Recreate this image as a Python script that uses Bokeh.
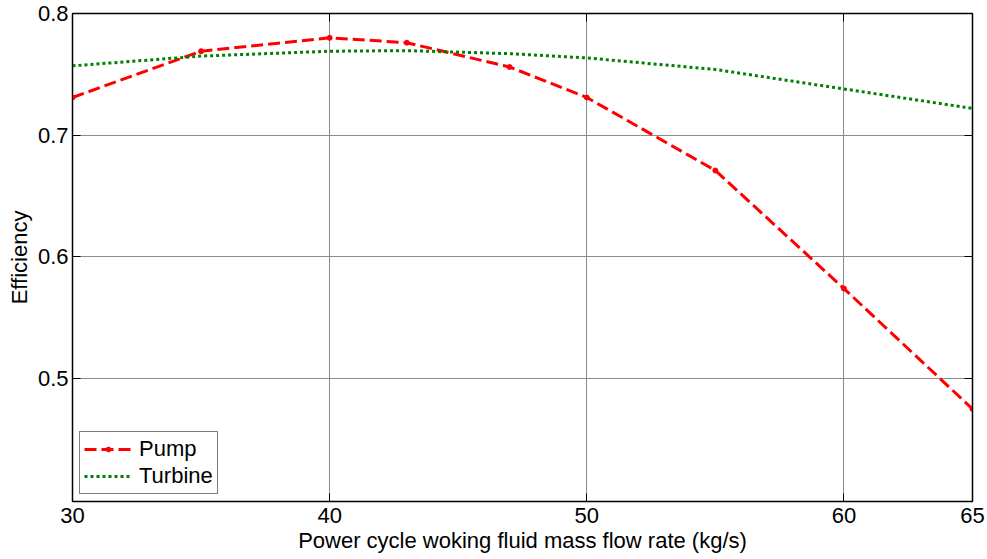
from bokeh.plotting import figure
from bokeh.models import Range1d, FixedTicker, LinearAxis, Legend, LegendItem, CustomLabelingPolicy
from bokeh.embed import file_html
from bokeh.resources import INLINE

# Data
flow = [30, 35, 40, 43, 47, 50, 55, 60, 65]
pump_eff = [0.731, 0.769, 0.780, 0.776, 0.756, 0.731, 0.671, 0.574, 0.475]
turbine_eff = [0.757, 0.765, 0.769, 0.7695, 0.767, 0.7635, 0.754, 0.738, 0.722]
x_ticks = [30, 40, 50, 60, 65]
y_ticks = [0.5, 0.6, 0.7, 0.8]

FONT = "Liberation Sans"
FS = "22px"

p = figure(width=987, height=559, output_backend="svg", toolbar_location=None,
           x_range=Range1d(30, 65), y_range=Range1d(0.399, 0.8),
           min_border_left=72, min_border_right=15, min_border_top=13, min_border_bottom=58)
p.background_fill_color = "white"
p.border_fill_color = "white"
p.outline_line_color = "black"
p.outline_line_width = 1.5

for ax in (p.xaxis[0], p.yaxis[0]):
    ax.major_label_text_font = FONT
    ax.major_label_text_font_size = FS
    ax.axis_label_text_font = FONT
    ax.axis_label_text_font_size = FS
    ax.axis_label_text_font_style = "normal"
    ax.major_tick_in = 8
    ax.major_tick_out = 0
    ax.minor_tick_line_color = None
    ax.axis_line_color = "black"
    ax.major_tick_line_color = "black"
    ax.major_label_text_color = "black"
    ax.axis_label_text_color = "black"

p.xaxis[0].ticker = FixedTicker(ticks=x_ticks)
p.yaxis[0].ticker = FixedTicker(ticks=y_ticks)
p.xaxis[0].axis_label = "Power cycle woking fluid mass flow rate (kg/s)"
p.yaxis[0].axis_label = "Efficiency"
p.xaxis[0].major_label_standoff = 6
p.xaxis[0].axis_label_standoff = 2
p.yaxis[0].major_label_standoff = 4
p.yaxis[0].axis_label_standoff = 3

# Tick marks on top and right edges, with no labels drawn
no_labels = "for (const i of Array.from(indices)) { indices.set(i, false) }\nreturn indices"
top = LinearAxis(ticker=FixedTicker(ticks=x_ticks),
                 major_label_policy=CustomLabelingPolicy(code=no_labels),
                 major_label_text_font_size="1px",
                 major_tick_in=8, major_tick_out=0, minor_tick_line_color=None,
                 major_label_standoff=0, axis_line_color="black")
right = LinearAxis(ticker=FixedTicker(ticks=y_ticks),
                   major_label_policy=CustomLabelingPolicy(code=no_labels),
                   major_label_text_font_size="1px",
                   major_tick_in=8, major_tick_out=0, minor_tick_line_color=None,
                   major_label_standoff=0, axis_line_color="black")
p.add_layout(top, "above")
p.add_layout(right, "right")

p.xgrid.ticker = FixedTicker(ticks=x_ticks)
p.ygrid.ticker = FixedTicker(ticks=y_ticks)
p.grid.grid_line_color = "#8c8c8c"
p.grid.grid_line_width = 1

pl = p.line(flow, pump_eff, line_color="#ff0000", line_width=3, line_dash="12 5")
ps = p.scatter(flow, pump_eff, size=5, color="#ff0000")
tl = p.line(flow, turbine_eff, line_color="#008000", line_width=3, line_dash="3 3")

legend = Legend(items=[LegendItem(label="Pump", renderers=[pl, ps]),
                       LegendItem(label="Turbine", renderers=[tl])],
                location=(7, 7))
legend.label_text_font = FONT
legend.label_text_font_size = FS
legend.label_text_color = "black"
legend.border_line_color = "black"
legend.border_line_width = 1
legend.background_fill_color = "white"
legend.background_fill_alpha = 1
legend.padding = 4
legend.spacing = 1
legend.margin = 0
legend.glyph_width = 48
legend.glyph_height = 12
legend.label_standoff = 7
legend.label_height = 25
p.add_layout(legend, "center")

open("out.html", "w").write(file_html(p, INLINE))
